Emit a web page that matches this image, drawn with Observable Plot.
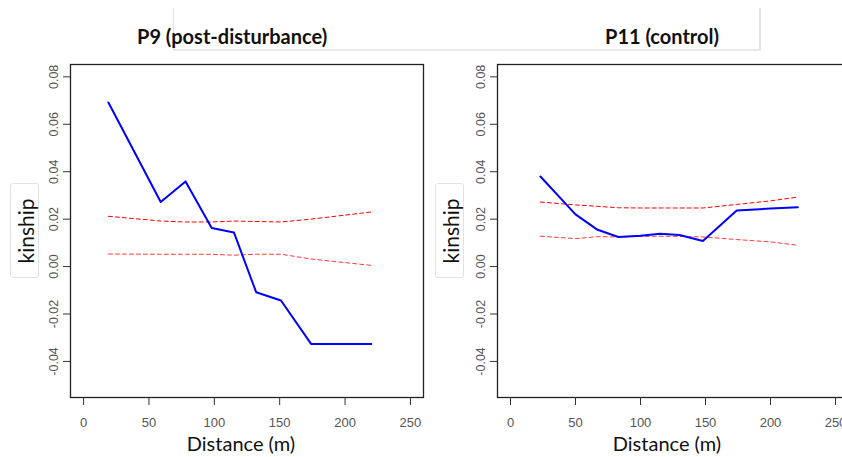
<!DOCTYPE html>
<html><head><meta charset="utf-8">
<script src="https://cdn.jsdelivr.net/npm/d3@7"></script>
<script src="https://cdn.jsdelivr.net/npm/@observablehq/plot@0.6"></script>
<style>
body{margin:0;background:#fff;overflow:hidden}
#wrap{position:relative;width:842px;height:457px;overflow:hidden;background:#fff}
.panel{position:absolute;top:0}
.title{position:absolute;top:23px;font-family:Lato,"Open Sans",sans-serif;font-weight:bold;font-size:20px;color:#111;white-space:nowrap;line-height:26px}
.ybox{position:absolute;top:183px;width:27px;height:93px;border:1px solid #e2e2e2;border-radius:3px;background:#fff}
.ybox span{position:absolute;left:50%;top:50%;transform:translate(-50%,-50%) rotate(-90deg);font-family:Lato,"Open Sans",sans-serif;font-size:21px;color:#111;white-space:nowrap}
#tbox{position:absolute;left:173px;top:8px;width:585px;height:41px;border-left:1.5px solid #e4e4e4;border-right:2px solid #e4e4e4;border-bottom:2px solid #e8e8e8}
</style></head>
<body><div id="wrap">
<div id="tbox"></div>
</div>
<script>
// ---- data ----
const xTicks = [0, 50, 100, 150, 200, 250];
const yTicks = [-0.04, -0.02, 0.00, 0.02, 0.04, 0.06, 0.08];

const p9Title = "P9 (post-disturbance)";
const p9Distance = [19, 59, 78, 98, 115, 132, 151, 174, 220];
const p9Kinship  = [0.0692, 0.0272, 0.0359, 0.0163, 0.0144, -0.0108, -0.0143, -0.0326, -0.0326];
const p9Upper    = [0.0212, 0.0192, 0.0188, 0.0188, 0.0192, 0.0190, 0.0188, 0.0200, 0.0230];
const p9Lower    = [0.0053, 0.0052, 0.0052, 0.0052, 0.0048, 0.0052, 0.0052, 0.0032, 0.0005];

const p11Title = "P11 (control)";
const p11Distance = [23, 50, 67, 83, 100, 115, 130, 148, 174, 200, 221];
const p11Kinship  = [0.0380, 0.0220, 0.0155, 0.0125, 0.0130, 0.0138, 0.0133, 0.0108, 0.0236, 0.0245, 0.0250];
const p11Upper    = [0.0272, 0.0260, 0.0254, 0.0248, 0.0247, 0.0247, 0.0247, 0.0247, 0.0262, 0.0277, 0.0293];
const p11Lower    = [0.0128, 0.0118, 0.0126, 0.0125, 0.0127, 0.0128, 0.0127, 0.0125, 0.0114, 0.0104, 0.0090];

const xLabel = "Distance (m)";
const yLabel = "kinship";

function panel(dist, kin, up, lo, left, marginLeft, marginRight) {
  const rows = dist.map((d, i) => ({d, k: kin[i], u: up[i], l: lo[i]}));
  const p = Plot.plot({
    width: 430, height: 457,
    marginLeft, marginRight, marginTop: 64, marginBottom: 60,
    x: {domain: [-10, 260]},
    y: {domain: [-0.0552, 0.0852]},
    style: {background: "transparent", overflow: "visible"},
    marks: [
      Plot.frame({stroke: "#222", strokeWidth: 1.3}),
      Plot.axisX({ticks: xTicks, tickSize: 8, tickPadding: 12, fontSize: 13, fontFamily: "Liberation Sans, Arial, sans-serif",
        tickFormat: d => String(d), label: null, stroke: "#333", fill: "#555"}),
      Plot.axisY({ticks: yTicks, tickSize: 7, tickPadding: 6, tickRotate: -90, fontSize: 12.5, fontFamily: "Liberation Sans, Arial, sans-serif",
        tickFormat: d => d.toFixed(2), label: null, stroke: "#333", fill: "#555"}),
      Plot.line(rows, {x: "d", y: "u", stroke: "red", strokeWidth: 1, strokeDasharray: "4,3"}),
      Plot.line(rows, {x: "d", y: "l", stroke: "#ff3b3b", strokeWidth: 1, strokeDasharray: "4,3"}),
      Plot.line(rows, {x: "d", y: "k", stroke: "#0000ff", strokeWidth: 2}),
      Plot.text([xLabel], {frameAnchor: "bottom", lineAnchor: "middle", dy: 47, dx: -6, fontSize: 20, fontFamily: "Lato, Open Sans, sans-serif", fill: "#111"})
    ]
  });
  p.classList.add("panel");
  p.style.left = left + "px";
  return p;
}

const wrap = document.getElementById("wrap");
wrap.appendChild(panel(p9Distance, p9Kinship, p9Upper, p9Lower, 0, 70, 7));
wrap.appendChild(panel(p11Distance, p11Kinship, p11Upper, p11Lower, 421, 76, 3));

function addDiv(cls, text, left) {
  const d = document.createElement("div");
  d.className = cls;
  d.style.left = left + "px";
  if (cls === "ybox") { const s = document.createElement("span"); s.textContent = text; d.appendChild(s); }
  else d.textContent = text;
  wrap.appendChild(d);
  return d;
}
const t1 = addDiv("title", p9Title, 0);
const t2 = addDiv("title", p11Title, 0);
t1.style.left = (232 - t1.offsetWidth / 2) + "px";
t2.style.left = (662 - t2.offsetWidth / 2) + "px";
addDiv("ybox", yLabel, 10);
addDiv("ybox", yLabel, 435);
</script>
</body></html>
